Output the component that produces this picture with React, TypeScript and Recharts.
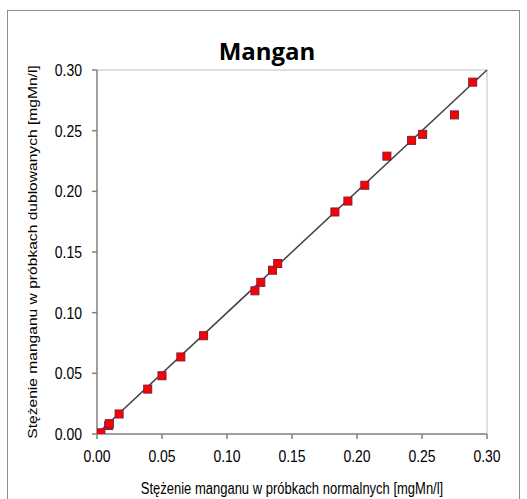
import React from "react";
import {
  ScatterChart,
  Scatter,
  XAxis,
  YAxis,
  ReferenceLine,
  Label,
} from "recharts";

const normalne = [
  0.001, 0.003, 0.009, 0.0095, 0.017, 0.039, 0.05, 0.0645, 0.082, 0.1215,
  0.126, 0.135, 0.139, 0.183, 0.193, 0.206, 0.223, 0.242, 0.2505, 0.275, 0.289,
];
const dublowane = [
  0.0, 0.001, 0.007, 0.0085, 0.0165, 0.037, 0.048, 0.0635, 0.081, 0.118,
  0.125, 0.135, 0.1405, 0.183, 0.192, 0.205, 0.229, 0.242, 0.247, 0.263, 0.29,
];
const ticks = [0, 0.05, 0.1, 0.15, 0.2, 0.25, 0.3];

const points = normalne.map((x, i) => ({ x, y: dublowane[i] }));

const font = "'Liberation Sans', Arial, sans-serif";

function Square(props: any) {
  const { cx, cy } = props;
  if (cx == null || cy == null) return null;
  return (
    <rect
      x={cx - 4}
      y={cy - 4}
      width={8}
      height={8}
      fill="#ff0000"
      stroke="#7a1f3d"
      strokeWidth={1}
    />
  );
}

// the source picture is a bit stretched vertically, so text gets scaleY
function XTick({ x, y, payload }: any) {
  return (
    <text
      transform={`translate(${x},${y + 21}) scale(1,1.2)`}
      textAnchor="middle"
      fill="#000"
      fontSize={14}
      fontFamily={font}
    >
      {Number(payload.value).toFixed(2)}
    </text>
  );
}

function YTick({ x, y, payload }: any) {
  return (
    <text
      transform={`translate(${x - 8},${y + 6}) scale(1,1.2)`}
      textAnchor="end"
      fill="#000"
      fontSize={14}
      fontFamily={font}
    >
      {Number(payload.value).toFixed(2)}
    </text>
  );
}

export default function App() {
  return (
    <div
      style={{
        position: "absolute",
        left: 0,
        top: 0,
        width: 527,
        height: 499,
        overflow: "hidden",
        background: "#fff",
      }}
    >
      <div
        style={{
          position: "absolute",
          left: 7,
          top: 10,
          width: 511,
          height: 500,
          border: "1px solid #8c8c8c",
        }}
      />
      <div
        style={{
          position: "absolute",
          left: 0,
          top: 39,
          width: 534,
          textAlign: "center",
          fontFamily: "'Open Sans', sans-serif",
          fontWeight: 700,
          fontSize: 24,
          lineHeight: "24px",
          color: "#000",
        }}
      >
        Mangan
      </div>
      <div style={{ position: "absolute", left: 0, top: 0 }}>
        <ScatterChart
          width={527}
          height={499}
          margin={{ top: 70, right: 40, bottom: 35, left: 0 }}
        >
          <XAxis
            type="number"
            dataKey="x"
            domain={[0, 0.3]}
            ticks={ticks}
            stroke="#808080"
            strokeWidth={1.5}
            tickSize={5}
            height={30}
            tick={<XTick />}
            allowDataOverflow
          >
            <Label
              content={({ viewBox }: any) => (
                <text
                  transform={`translate(${viewBox.x + viewBox.width / 2},${
                    viewBox.y + 60
                  }) scale(1,1.2)`}
                  textAnchor="middle"
                  fill="#000"
                  fontSize={13}
                  fontFamily={font}
                >
                  Stężenie manganu w próbkach normalnych [mgMn/l]
                </text>
              )}
            />
          </XAxis>
          <YAxis
            type="number"
            dataKey="y"
            domain={[0, 0.3]}
            ticks={ticks}
            stroke="#808080"
            strokeWidth={1.5}
            tickSize={5}
            width={97}
            tick={<YTick />}
            allowDataOverflow
          >
            <Label
              content={({ viewBox }: any) => (
                <text
                  transform={`translate(37,${
                    viewBox.y + viewBox.height / 2
                  }) rotate(-90) scale(1.2,1)`}
                  textAnchor="middle"
                  fill="#000"
                  fontSize={13}
                  fontFamily={font}
                >
                  Stężenie manganu w próbkach dublowanych [mgMn/l]
                </text>
              )}
            />
          </YAxis>
          <ReferenceLine y={0.3} stroke="#c0c0c0" strokeWidth={1} />
          <ReferenceLine x={0.3} stroke="#c0c0c0" strokeWidth={1} />
          <ReferenceLine
            segment={[
              { x: 0, y: 0 },
              { x: 0.3, y: 0.3 },
            ]}
            stroke="#404040"
            strokeWidth={1.5}
          />
          <Scatter
            data={points}
            shape={<Square />}
            isAnimationActive={false}
          />
        </ScatterChart>
      </div>
    </div>
  );
}
